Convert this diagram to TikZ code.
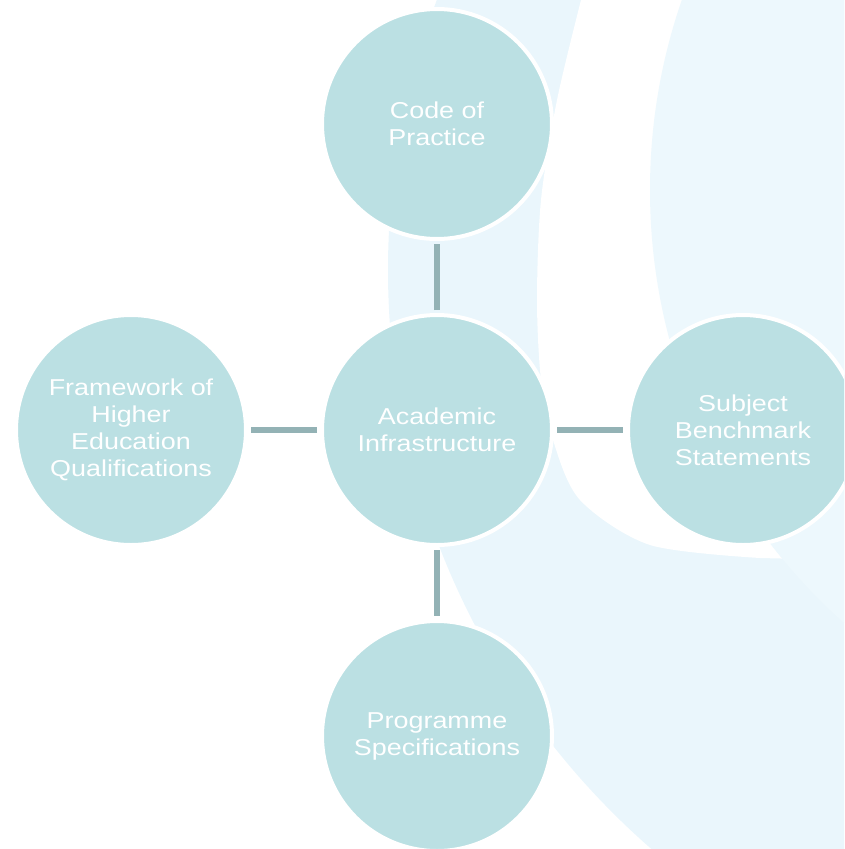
\documentclass[tikz,border=0pt]{standalone}
\usepackage{fontspec}
\usepackage{tikz}
\usetikzlibrary{positioning}

\newfontfamily\diagfont{Liberation Sans}[FakeStretch=1.17]
\definecolor{bgpale}{RGB}{234,246,252}
\definecolor{bginner}{RGB}{237,248,253}
\definecolor{hubfill}{RGB}{187,224,227}
\definecolor{linkgray}{RGB}{147,178,181}

\begin{document}
\begin{tikzpicture}[x=1pt,y=-1pt,node distance=306pt,
  hub/.style={circle,fill=hubfill,draw=white,line width=4pt,minimum size=230pt,
    text=white,align=center,font=\diagfont\fontsize{23}{27}\selectfont},
  link/.style={draw=linkgray,line width=6pt,shorten >=3pt,shorten <=3pt}]

\useasboundingbox (0,0) rectangle (844,849);
\clip (0,0) rectangle (844,849);

% background swoosh
\fill[bgpale] (1156,270) circle [radius=768];
\fill[white] plot[smooth] coordinates {(581,0) (557,100) (541,200) (537,300) (541,380)
  (553,440) (580,500) (650,545) (760,558)} -- (844,560) -- (844,0) -- cycle;
\fill[bginner] (1230,190) circle [radius=580];

\node[hub] (AI) at (437,430)   {Academic\\Infrastructure};
\node[hub] (CP) [above of=AI]  {Code of\\Practice};
\node[hub] (SB) [right of=AI]  {Subject\\Benchmark\\Statements};
\node[hub] (PS) [below of=AI]  {Programme\\Specifications};
\node[hub] (FH) [left of=AI]   {Framework of\\Higher\\Education\\Qualifications};

\path[link]
(AI) edge (CP)
     edge (SB)
     edge (PS)
     edge (FH);
\end{tikzpicture}
\end{document}
